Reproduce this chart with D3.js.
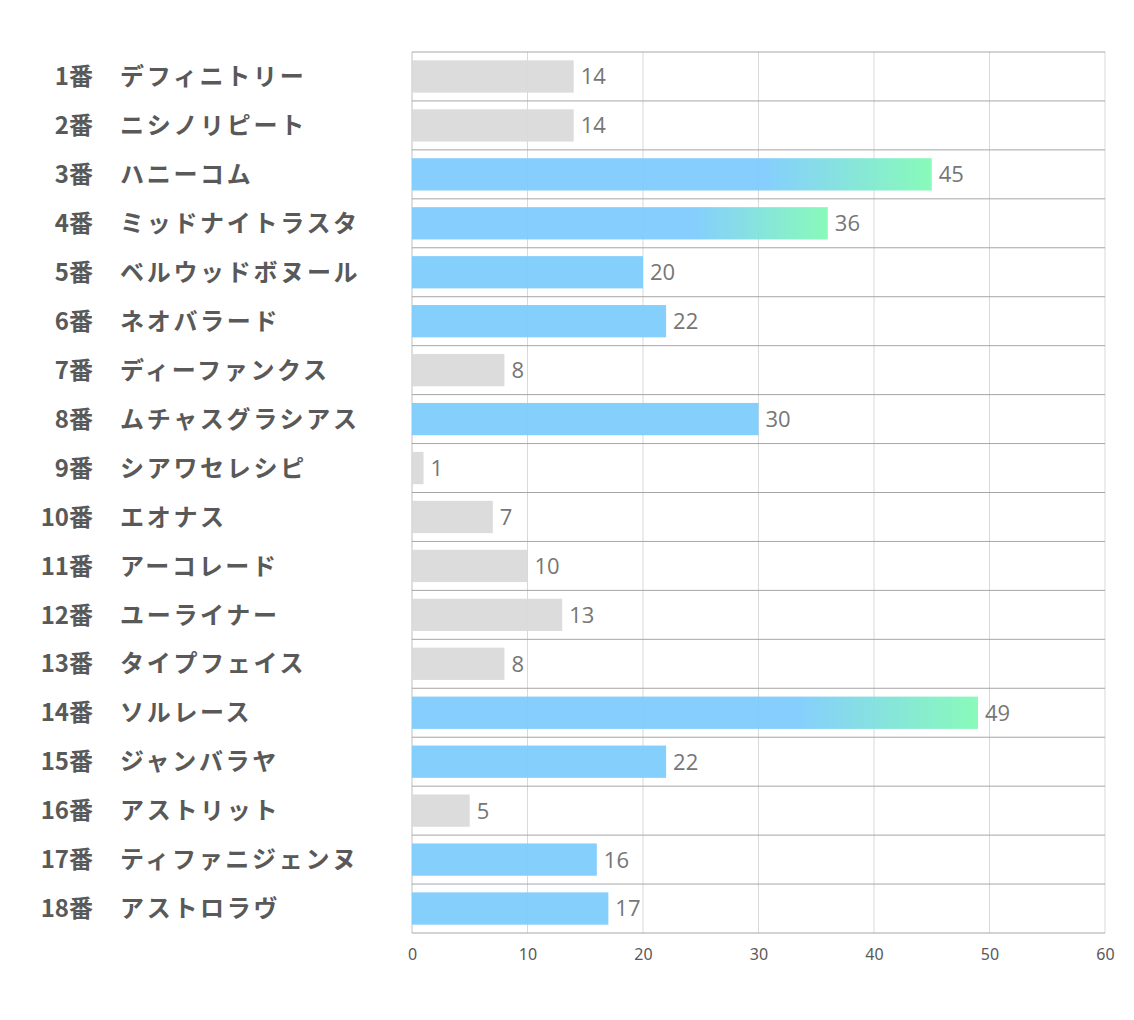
<!DOCTYPE html>
<html>
<head>
<meta charset="utf-8">
<script src="https://cdn.jsdelivr.net/npm/d3@7"></script>
<style>
  body { margin: 0; background: #fff; }
</style>
</head>
<body>
<div id="chart"></div>
<script>
// data
const numbers = ["1番","2番","3番","4番","5番","6番","7番","8番","9番","10番","11番","12番","13番","14番","15番","16番","17番","18番"];
const horses = ["デフィニトリー","ニシノリピート","ハニーコム","ミッドナイトラスタ","ベルウッドボヌール","ネオバラード","ディーファンクス","ムチャスグラシアス","シアワセレシピ","エオナス","アーコレード","ユーライナー","タイプフェイス","ソルレース","ジャンバラヤ","アストリット","ティファニジェンヌ","アストロラヴ"];
const values = [14, 14, 45, 36, 20, 22, 8, 30, 1, 7, 10, 13, 8, 49, 22, 5, 16, 17];
const marked = [false, false, true, true, true, true, false, true, false, false, false, false, false, true, true, false, true, true];
const xTicks = [0, 10, 20, 30, 40, 50, 60];

const width = 1134, height = 1020;
const margin = {top: 52, right: 29, bottom: 87, left: 412};
const innerWidth = width - margin.left - margin.right;
const innerHeight = height - margin.top - margin.bottom;

const svg = d3.select("#chart").append("svg")
  .attr("width", width).attr("height", height);

const defs = svg.append("defs");
const grad = defs.append("linearGradient")
  .attr("id", "hot").attr("x1", "0%").attr("x2", "100%").attr("y1", "0%").attr("y2", "0%");
grad.append("stop").attr("offset", "68%").attr("stop-color", "#7ccbfd");
grad.append("stop").attr("offset", "100%").attr("stop-color", "#7ffab4");

const inner = svg.append("g").attr("transform", `translate(${margin.left},${margin.top})`);

const x = d3.scaleLinear().domain([0, 60]).range([0, innerWidth]);
const y = d3.scaleBand().domain(d3.range(values.length)).range([0, innerHeight]).paddingInner(0.34).paddingOuter(0.17);

// vertical grid
inner.append("g").selectAll("line").data(xTicks).join("line")
  .attr("x1", d => x(d)).attr("x2", d => x(d))
  .attr("y1", 0).attr("y2", innerHeight)
  .attr("stroke", d => d === 0 ? "#bfbfbf" : "#d9d9d9").attr("stroke-width", 1);

// horizontal row lines
inner.append("g").selectAll("line").data(d3.range(values.length + 1)).join("line")
  .attr("x1", 0).attr("x2", innerWidth)
  .attr("y1", i => i * innerHeight / values.length)
  .attr("y2", i => i * innerHeight / values.length)
  .attr("stroke", "#a6a6a6").attr("stroke-width", 1);

// bars
inner.append("g").selectAll("rect").data(values).join("rect")
  .attr("x", x(0))
  .attr("y", (d, i) => y(i))
  .attr("width", d => x(d) - x(0))
  .attr("height", y.bandwidth())
  .attr("fill", (d, i) => !marked[i] ? "#d9d9d9" : (d >= 35 ? "url(#hot)" : "#7ccbfd"))
  .attr("fill-opacity", 0.93);

// value labels
inner.append("g").selectAll("text").data(values).join("text")
  .attr("x", d => x(d) + 7)
  .attr("y", (d, i) => y(i) + y.bandwidth() / 2)
  .attr("dy", "0.36em")
  .attr("font-family", "'Open Sans', 'Noto Sans', sans-serif")
  .attr("font-size", 22)
  .attr("fill", "#767676")
  .text(d => d);

// x axis
const xAxis = d3.axisBottom(x).tickValues(xTicks).tickSize(0).tickPadding(16);
inner.append("g")
  .attr("transform", `translate(0,${innerHeight})`)
  .call(xAxis)
  .call(g => g.select(".domain").remove())
  .selectAll("text")
    .attr("font-family", "'Noto Sans', sans-serif")
    .attr("font-size", 16)
    .attr("fill", "#595959");

// row labels
const labels = svg.append("g").attr("transform", `translate(0,${margin.top})`);
labels.selectAll("text.num").data(numbers).join("text")
  .attr("class", "num")
  .attr("x", 93)
  .attr("y", (d, i) => y(i) + y.bandwidth() / 2)
  .attr("dy", "0.36em")
  .attr("text-anchor", "end")
  .attr("font-family", "'Noto Sans CJK JP', sans-serif")
  .attr("font-weight", "bold")
  .attr("font-size", 24)
  .attr("fill", "#595959")
  .text(d => d);

labels.selectAll("text.name").data(horses).join("text")
  .attr("class", "name")
  .attr("x", 120)
  .attr("y", (d, i) => y(i) + y.bandwidth() / 2)
  .attr("dy", "0.36em")
  .attr("font-family", "'Noto Sans CJK JP', sans-serif")
  .attr("font-weight", "bold")
  .attr("font-size", 24)
  .attr("letter-spacing", 2.7)
  .attr("fill", "#595959")
  .text(d => d);
</script>
</body>
</html>
